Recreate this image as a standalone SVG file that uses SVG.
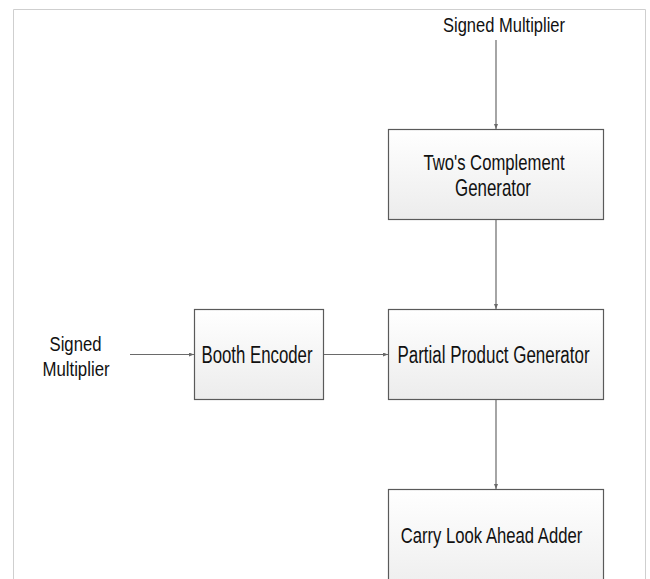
<svg xmlns="http://www.w3.org/2000/svg" width="650" height="579" viewBox="0 0 650 579">
  <style>
    .box { stroke: #5a5a5a; stroke-width: 1.2; fill: url(#boxFill); }
    .lbl { font-family: "Liberation Sans", Arial, sans-serif; font-size: 23px; fill: #111; text-anchor: middle; }
    .sm { font-size: 21px; }
    .wire { stroke: #6a6a6a; stroke-width: 1.2; fill: none; marker-end: url(#tip); }
  </style>
  <defs>
    <linearGradient id="boxFill" x1="0" y1="0" x2="0" y2="1">
      <stop offset="0" stop-color="#ffffff"/>
      <stop offset="1" stop-color="#ececec"/>
    </linearGradient>
    <marker id="tip" markerWidth="5" markerHeight="4" refX="5" refY="2" orient="auto" markerUnits="userSpaceOnUse">
      <path d="M0,0 L5,2 L0,4 Z" fill="#6a6a6a"/>
    </marker>
  </defs>

  <rect width="650" height="579" fill="#ffffff"/>
  <!-- page frame -->
  <path d="M13.5,579 V9.5 H645.5 V579" fill="none" stroke="#cfcfcf" stroke-width="1"/>

  <g id="connectors">
    <line class="wire" x1="496" y1="40" x2="496" y2="129"/>
    <line class="wire" x1="496" y1="219" x2="496" y2="309"/>
    <line class="wire" x1="130" y1="354.5" x2="194" y2="354.5"/>
    <line class="wire" x1="324" y1="354.5" x2="388" y2="354.5"/>
    <line class="wire" x1="496" y1="399" x2="496" y2="489"/>
  </g>

  <!-- labels use a horizontally condensed sans -->
  <g id="input-top">
    <text class="lbl sm" transform="translate(504,32) scale(0.786,1)">Signed Multiplier</text>
  </g>

  <g id="input-left">
    <text class="lbl sm" transform="translate(75.5,351) scale(0.795,1)">Signed</text>
    <text class="lbl sm" transform="translate(76,376) scale(0.8,1)">Multiplier</text>
  </g>

  <g id="twos-complement">
    <rect class="box" x="388.5" y="129.5" width="215" height="90"/>
    <text class="lbl" transform="translate(494,170) scale(0.725,1)">Two's Complement</text>
    <text class="lbl" transform="translate(493,196) scale(0.734,1)">Generator</text>
  </g>

  <g id="booth-encoder">
    <rect class="box" x="194.5" y="309.5" width="129" height="90"/>
    <text class="lbl" transform="translate(257,363) scale(0.73,1)">Booth Encoder</text>
  </g>

  <g id="partial-product">
    <rect class="box" x="388.5" y="309.5" width="215" height="90"/>
    <text class="lbl" transform="translate(493.5,363) scale(0.737,1)">Partial Product Generator</text>
  </g>

  <g id="carry-look-ahead">
    <rect class="box" x="388.5" y="489.5" width="215" height="110"/>
    <text class="lbl" transform="translate(491.5,543) scale(0.725,1)">Carry Look Ahead Adder</text>
  </g>
</svg>
